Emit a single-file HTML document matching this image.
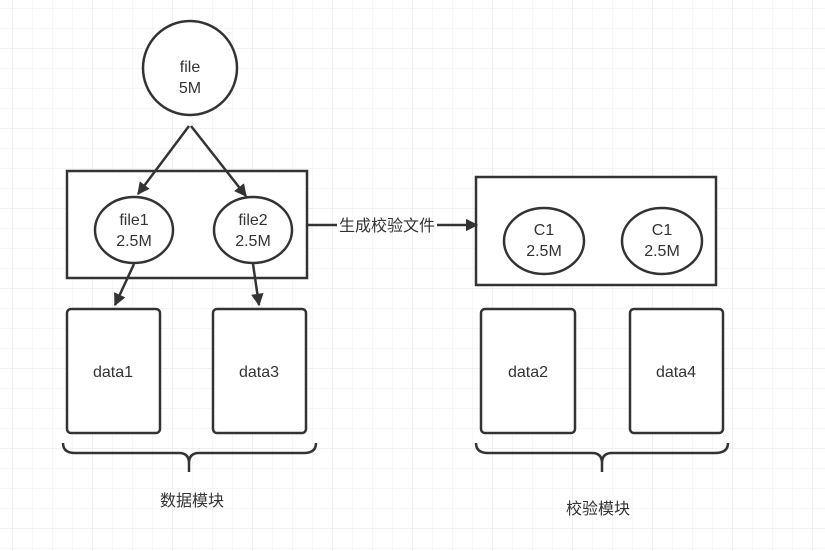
<!DOCTYPE html>
<html><head><meta charset="utf-8"><style>
html,body{margin:0;padding:0;background:#fff;}
svg{display:block;}
text{font-family:"Liberation Sans","Noto Sans CJK SC",sans-serif;fill:#333;font-size:16px;text-anchor:middle;}
</style></head><body>
<svg width="825" height="551" viewBox="0 0 825 551" xmlns="http://www.w3.org/2000/svg">
<defs>
<pattern id="g" x="12" y="8" width="20" height="20" patternUnits="userSpaceOnUse">
<path d="M0 0V20M0 0H20" stroke="#ececec" stroke-width="1" fill="none"/>
</pattern>
<pattern id="G" x="12" y="48" width="80" height="80" patternUnits="userSpaceOnUse">
<path d="M0 0V80M0 0H80" stroke="#e0e0e0" stroke-width="1" fill="none"/>
</pattern>
<marker id="a" viewBox="0 0 10 10" refX="9" refY="5" markerWidth="5" markerHeight="5" orient="auto">
<path d="M0 0L10 5L0 10z" fill="#333"/>
</marker>
</defs>
<rect width="825" height="551" fill="url(#g)"/>
<rect width="825" height="551" fill="url(#G)"/>
<g stroke="#333" stroke-width="2.5" fill="#fff">
<circle cx="190" cy="68" r="47"/>
<rect x="67" y="171" width="240" height="107"/>
<ellipse cx="134" cy="230" rx="39" ry="33"/>
<ellipse cx="253" cy="230" rx="39" ry="33"/>
<rect x="476" y="177" width="240" height="108"/>
<ellipse cx="544" cy="241" rx="40" ry="33"/>
<ellipse cx="662" cy="241" rx="40" ry="33"/>
<rect x="67" y="309" width="93" height="124" rx="4"/>
<rect x="213" y="309" width="93" height="124" rx="4"/>
<rect x="481" y="309" width="94" height="124" rx="4"/>
<rect x="630" y="309" width="93" height="124" rx="4"/>
</g>
<g stroke="#333" stroke-width="2.5" fill="none" marker-end="url(#a)">
<line x1="189" y1="126" x2="138" y2="194"/>
<line x1="191" y1="126" x2="246" y2="196"/>
<line x1="134" y1="264" x2="115" y2="305"/>
<line x1="253" y1="264" x2="259" y2="305"/>
<line x1="437" y1="225" x2="477" y2="225"/>
</g>
<line x1="307" y1="225" x2="337" y2="225" stroke="#333" stroke-width="2.5"/>
<g stroke="#333" stroke-width="2.5" fill="none">
<path d="M63 443Q63 453 75 453H179Q189 453 189 463V472M189 463Q189 453 199 453H304Q316 453 316 443"/>
<path d="M476 443Q476 453 488 453H592Q602 453 602 463V472M602 463Q602 453 612 453H715Q728 453 728 443"/>
</g>
<text x="190" y="72">file</text><text x="190" y="93">5M</text>
<text x="134" y="225">file1</text><text x="134" y="246">2.5M</text>
<text x="253" y="225">file2</text><text x="253" y="246">2.5M</text>
<text x="544" y="235">C1</text><text x="544" y="256">2.5M</text>
<text x="662" y="235">C1</text><text x="662" y="256">2.5M</text>
<text x="387" y="231">生成校验文件</text>
<text x="113" y="377">data1</text>
<text x="259" y="377">data3</text>
<text x="528" y="377">data2</text>
<text x="676" y="377">data4</text>
<text x="192" y="506">数据模块</text>
<text x="598" y="514">校验模块</text>
</g>
</svg>
</body></html>
